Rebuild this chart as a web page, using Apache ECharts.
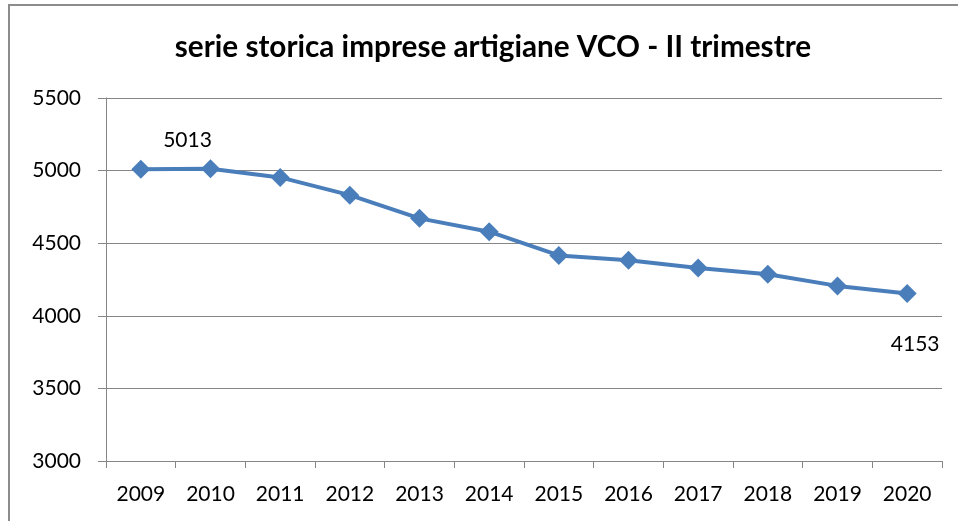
<!DOCTYPE html>
<html>
<head>
<meta charset="utf-8">
<script src="https://cdn.jsdelivr.net/npm/echarts@6/dist/echarts.min.js"></script>
<style>
  html, body { margin: 0; padding: 0; background: #fff; }
  #chart { width: 958px; height: 521px; }
</style>
</head>
<body>
<div id="chart"></div>
<script>
// anni e numero imprese artigiane (II trimestre)
const years = ["2009", "2010", "2011", "2012", "2013", "2014", "2015", "2016", "2017", "2018", "2019", "2020"];
const imprese = [5010, 5013, 4953, 4831, 4671, 4579, 4416, 4382, 4329, 4286, 4206, 4153];
const yTicks = [3000, 3500, 4000, 4500, 5000, 5500];

const chart = echarts.init(document.getElementById("chart"));

// solo il massimo e l'ultimo valore hanno l'etichetta
const seriesData = imprese.map((v, i) => {
  if (i === 1) {
    return { value: v, label: { show: true, position: "inside", offset: [-23, -28] } };
  }
  if (i === imprese.length - 1) {
    return { value: v, label: { show: true, position: "inside", offset: [8, 51] } };
  }
  return v;
});

chart.setOption({
  backgroundColor: "#fff",
  animation: false,
  title: {
    text: "serie storica imprese artigiane VCO - II trimestre",
    left: 488,
    textAlign: "center",
    top: 27,
    textStyle: {
      fontFamily: "Lato",
      fontSize: 29.7,
      fontWeight: "bold",
      color: "#000",
    },
  },
  graphic: [
    {
      type: "rect",
      shape: { x: 9, y: 5, width: 1000, height: 600 },
      style: { fill: "none", stroke: "#8c8c8c", lineWidth: 2 },
      silent: true,
    },
  ],
  grid: {
    left: 106,
    right: 16,
    top: 98,
    bottom: 60,
  },
  xAxis: {
    type: "category",
    data: years,
    boundaryGap: true,
    axisLine: { show: true, lineStyle: { color: "#868686", width: 1 } },
    axisTick: { show: true, length: 7, lineStyle: { color: "#868686" } },
    axisLabel: {
      color: "#000",
      fontFamily: "Lato",
      fontSize: 21,
      margin: 23,
    },
  },
  yAxis: {
    type: "value",
    min: yTicks[0],
    max: yTicks[yTicks.length - 1],
    interval: 500,
    axisLine: { show: true, lineStyle: { color: "#868686", width: 1 } },
    axisTick: { show: true, length: 8, lineStyle: { color: "#868686" } },
    axisLabel: {
      color: "#000",
      fontFamily: "Lato",
      fontSize: 21,
      margin: 25,
      formatter: (v) => String(v),
    },
    splitLine: { lineStyle: { color: "#868686", width: 1 } },
  },
  series: [
    {
      type: "line",
      data: seriesData,
      symbol: "diamond",
      symbolSize: 19,
      lineStyle: { color: "#4a7ebb", width: 4 },
      itemStyle: { color: "#4a7ebb" },
      label: {
        color: "#000",
        fontFamily: "Lato",
        fontSize: 21,
      },
    },
  ],
});
</script>
</body>
</html>
